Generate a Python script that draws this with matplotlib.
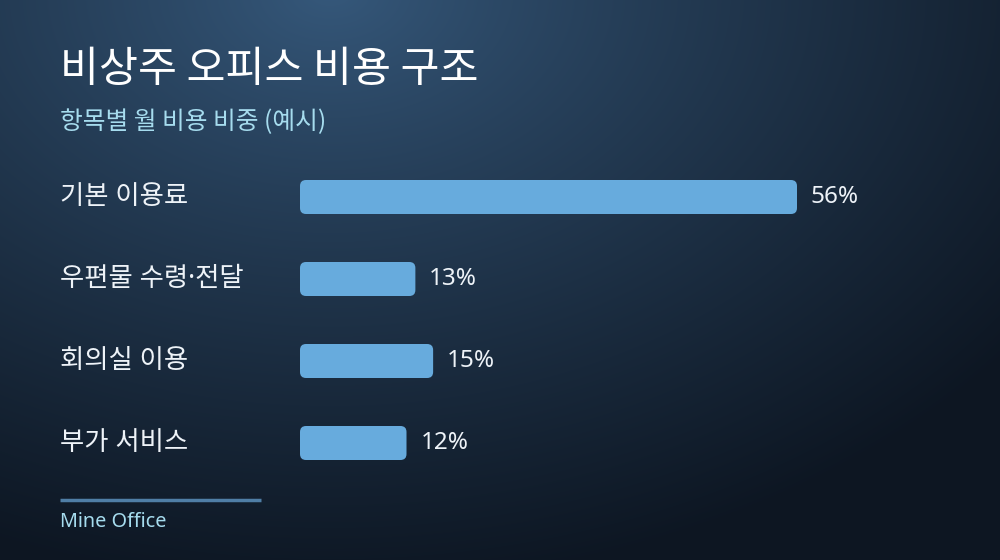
import matplotlib

matplotlib.use("Agg")
import matplotlib.pyplot as plt
import numpy as np
from matplotlib.colors import to_rgb
from matplotlib.patches import FancyBboxPatch
from matplotlib.transforms import blended_transform_factory

plt.rcParams["font.family"] = ["Noto Sans CJK KR", "DejaVu Sans"]

# data
categories = ["기본 이용료", "우편물 수령·전달", "회의실 이용", "부가 서비스"]
shares = [56, 13, 15, 12]
value_labels = ["56%", "13%", "15%", "12%"]
title = "비상주 오피스 비용 구조"
subtitle = "항목별 월 비용 비중 (예시)"
footer = "Mine Office"

W, H = 1000, 560
fig = plt.figure(figsize=(W / 100, H / 100), dpi=100)

# background: soft radial gradient
bg = fig.add_axes([0, 0, 1, 1])
bg.set_axis_off()
yy, xx = np.mgrid[0:H, 0:W]
d = np.sqrt(((xx - 330) / 860.0) ** 2 + ((yy + 10) / 600.0) ** 2)
t = np.clip(d, 0, 1) ** 0.85
c0 = np.array(to_rgb("#36597c"))
c1 = np.array(to_rgb("#0d1622"))
img = c0[None, None, :] * (1 - t[..., None]) + c1[None, None, :] * t[..., None]
bg.imshow(img, extent=[0, W, H, 0], aspect="auto", zorder=0)
bg.set_xlim(0, W)
bg.set_ylim(H, 0)

fig.text(60 / W, 1 - 70 / H, title, color="white", fontsize=30.5, va="center", ha="left")
fig.text(60 / W, 1 - 122 / H, subtitle, color="#a6dcee", fontsize=17.8, va="center", ha="left")

# bar area
ax_left, ax_w = 300, 600
row_px = 82
ax_top = 197 - row_px / 2
ax_h = row_px * len(categories)
ax = fig.add_axes([ax_left / W, 1 - (ax_top + ax_h) / H, ax_w / W, ax_h / H])
ax.set_axis_off()
px_per_unit = 497 / 56
ax.set_xlim(0, ax_w / px_per_unit)
ax.set_ylim(len(categories) - 0.5, -0.5)

y = np.arange(len(categories))
bar_h = 34 / row_px
bars = ax.barh(y, shares, height=bar_h, color="none")
radius_px = 6
aspect = (1 / row_px) / (1 / px_per_unit)
for rect in bars:
    x0, y0 = rect.get_x(), rect.get_y()
    w, h = rect.get_width(), rect.get_height()
    ax.add_patch(
        FancyBboxPatch(
            (x0, y0), w, h,
            boxstyle=f"round,pad=0,rounding_size={radius_px / px_per_unit}",
            mutation_aspect=aspect,
            facecolor="#67abdd", edgecolor="none",
        )
    )

for yi, v, lab in zip(y, shares, value_labels):
    ax.annotate(lab, (v, yi), xytext=(10, 0), textcoords="offset points",
                va="center", ha="left", color="#eef3f8", fontsize=17.5,
                family=["Noto Sans", "DejaVu Sans"])

trans = blended_transform_factory(fig.transFigure, ax.transData)
for yi, cat in zip(y, categories):
    ax.text(60 / W, yi, cat, transform=trans, va="center", ha="left",
            color="#eef3f8", fontsize=19,
            family=["Noto Sans", "Noto Sans CJK KR", "DejaVu Sans"])

# footer
bg.plot([60, 261], [500, 500], color="#4f7ea6", lw=2.5, solid_capstyle="butt")
fig.text(60 / W, 1 - 522 / H, footer, color="#a6dcee", fontsize=14.3, va="center", ha="left",
         family=["Noto Sans", "DejaVu Sans"])

fig.savefig("out.png", dpi=100, facecolor=fig.get_facecolor())
plt.close(fig)
